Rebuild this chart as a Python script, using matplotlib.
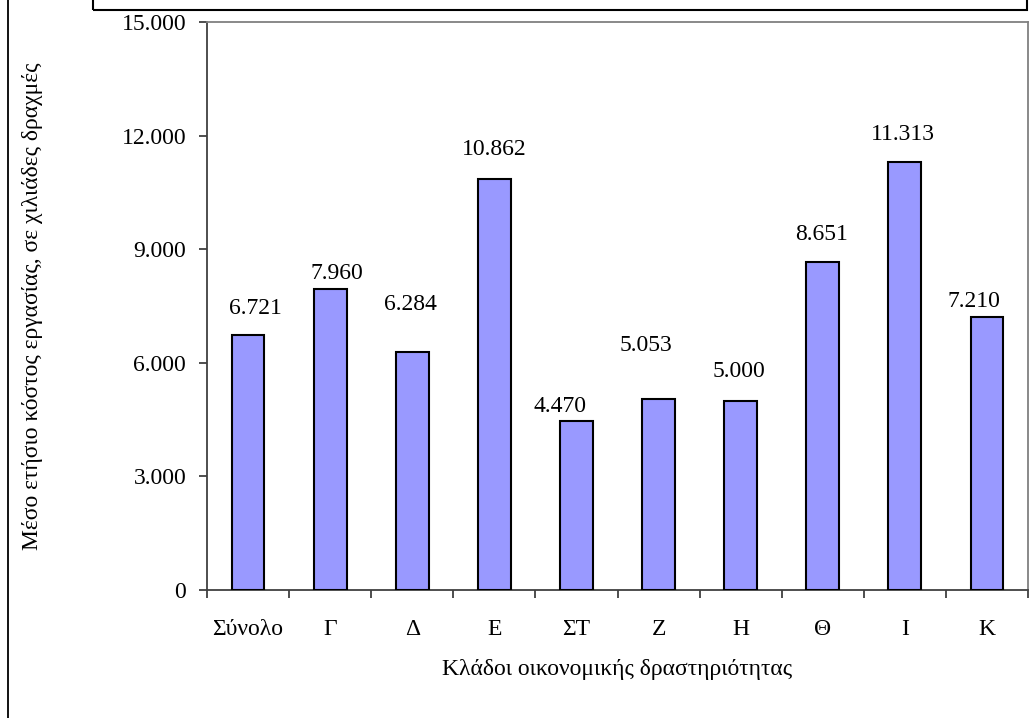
import numpy as np
import matplotlib
matplotlib.use('Agg')
import matplotlib.pyplot as plt
from matplotlib.patches import Rectangle
from matplotlib.lines import Line2D
from matplotlib.ticker import FuncFormatter, FixedLocator

# data
categories = ['Σύνολο', 'Γ', 'Δ', 'Ε', 'ΣΤ', 'Ζ', 'Η', 'Θ', 'Ι', 'Κ']
values = [6721, 7960, 6284, 10862, 4470, 5053, 5000, 8651, 11313, 7210]
value_labels = ['6.721', '7.960', '6.284', '10.862', '4.470', '5.053', '5.000', '8.651', '11.313', '7.210']

# label offsets from bar top (pixels), as placed in the original chart
label_dx = [7, 7, -2, 0, -16, -13, -2, -1, -2, -13]
label_dy = [27, 15, 48, 29, 14, 53, 29, 28, 27, 15]

plt.rcParams['font.family'] = ['Liberation Serif', 'DejaVu Serif']
FS = 17

W, H = 1035, 718
fig = plt.figure(figsize=(W / 100, H / 100), dpi=100)
ax = fig.add_axes([207 / W, 1 - 590 / H, (1028 - 207) / W, (590 - 22) / H])

x = np.arange(len(categories))
ax.bar(x, values, width=0.4, color='#9999FF', edgecolor='black', linewidth=1.5, zorder=3)

for xi, v, lab, dx, dy in zip(x, values, value_labels, label_dx, label_dy):
    ax.annotate(lab, xy=(xi, v), xytext=(dx, dy), textcoords='offset pixels',
                ha='center', va='center', fontsize=FS)

ax.set_xlim(-0.5, len(categories) - 0.5)
ax.set_ylim(0, 15000)
ax.set_yticks(np.arange(0, 15001, 3000))
ax.yaxis.set_major_formatter(FuncFormatter(lambda v, p: '0' if v == 0 else f'{int(v):,}'.replace(',', '.')))
ax.set_xticks(x)
ax.set_xticklabels(categories)
ax.xaxis.set_minor_locator(FixedLocator(np.arange(-0.5, len(categories), 1.0)))

ax.tick_params(axis='x', which='major', length=0, pad=21, labelsize=FS)
ax.tick_params(axis='x', which='minor', length=6, width=1.3, color='#404040', direction='out')
ax.tick_params(axis='y', length=6, width=1.3, color='#404040', pad=9, labelsize=FS)

for s in ['left', 'bottom']:
    ax.spines[s].set_color('#404040')
    ax.spines[s].set_linewidth(1.3)
for s in ['top', 'right']:
    ax.spines[s].set_color('#808080')
    ax.spines[s].set_linewidth(1.3)

fig.text(33 / W, 1 - 306 / H, 'Μέσο ετήσιο κόστος εργασίας, σε χιλιάδες δραχμές',
         rotation=90, ha='center', va='center', fontsize=FS)
fig.text(617 / W, 1 - 670 / H, 'Κλάδοι οικονομικής δραστηριότητας',
         ha='center', va='center', fontsize=FS)

# outer frame pieces
fig.add_artist(Line2D([8 / W, 8 / W], [0, 1], color='black', linewidth=1.3, transform=fig.transFigure))
fig.add_artist(Rectangle((93 / W, 1 - 10 / H), (1027 - 93) / W, 20 / H, fill=False,
                         edgecolor='black', linewidth=1.5, transform=fig.transFigure))

fig.savefig('out.png', dpi=100)
